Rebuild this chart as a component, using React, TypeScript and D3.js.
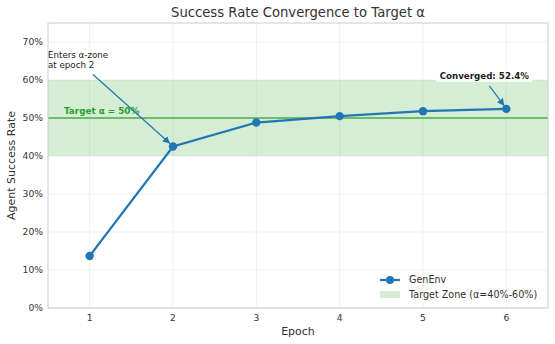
import React from 'react';
import * as d3 from 'd3';

const epochs = [1, 2, 3, 4, 5, 6];
const successRate = [0.137, 0.425, 0.488, 0.505, 0.518, 0.524];
const yTicks = [0, 0.1, 0.2, 0.3, 0.4, 0.5, 0.6, 0.7];
const zoneLow = 0.4;
const zoneHigh = 0.6;
const target = 0.5;

const W = 555;
const H = 344;
const margin = { top: 23, right: 7, bottom: 36, left: 48 };
const font = '"DejaVu Sans", sans-serif';

const App = () => {
  const iw = W - margin.left - margin.right;
  const ih = H - margin.top - margin.bottom;
  const x = d3.scaleLinear().domain([0.5, 6.5]).range([0, iw]);
  const y = d3.scaleLinear().domain([0, 0.75]).range([ih, 0]);
  const line = d3.line<number>().x((d, i) => x(epochs[i])).y(d => y(d));
  const fmt = d3.format('.0%');

  const p2 = [x(epochs[1]), y(successRate[1])];
  const p6 = [x(epochs[5]), y(successRate[5])];

  return (
    <svg width={W} height={H} style={{ position: 'absolute', left: 0, top: 0, fontFamily: font }}>
      <defs>
        <marker id="arr" viewBox="0 0 10 10" refX="10" refY="5" markerWidth="6" markerHeight="6" orient="auto-start-reverse">
          <path d="M0,0 L10,5 L0,10 z" fill="#1f77b4" />
        </marker>
      </defs>
      <rect width={W} height={H} fill="#fff" />
      <text x={margin.left + iw / 2} y={17} textAnchor="middle" fontSize={13.2} fill="#333">
        Success Rate Convergence to Target α
      </text>
      <g transform={`translate(${margin.left},${margin.top})`}>
        {epochs.map(e => (
          <line key={'gx' + e} x1={x(e)} x2={x(e)} y1={0} y2={ih} stroke="#eeeeee" strokeWidth={0.8} />
        ))}
        {yTicks.map(t => (
          <line key={'gy' + t} x1={0} x2={iw} y1={y(t)} y2={y(t)} stroke="#eeeeee" strokeWidth={0.8} />
        ))}
        <rect x={0} width={iw} y={y(zoneHigh)} height={y(zoneLow) - y(zoneHigh)} fill="#2ca02c" fillOpacity={0.2} />
        <line x1={0} x2={iw} y1={y(target)} y2={y(target)} stroke="#2ca02c" strokeOpacity={0.6} strokeWidth={2} />
        <text x={16} y={y(target) - 4} fontSize={8.8} fontWeight="bold" fill="#2ca02c">
          Target α = 50%
        </text>
        <rect x={0} y={0} width={iw} height={ih} fill="none" stroke="#cccccc" strokeWidth={1} />
        {yTicks.map(t => (
          <text key={'ty' + t} x={-5} y={y(t)} dy="0.35em" textAnchor="end" fontSize={9.2} fill="#333">
            {fmt(t)}
          </text>
        ))}
        {epochs.map(e => (
          <text key={'tx' + e} x={x(e)} y={ih + 13} textAnchor="middle" fontSize={9.2} fill="#333">
            {e}
          </text>
        ))}
        <text x={iw / 2} y={ih + 27} textAnchor="middle" fontSize={11} fill="#333">Epoch</text>
        <text transform={`translate(${-33},${ih / 2}) rotate(-90)`} textAnchor="middle" fontSize={11} fill="#333">
          Agent Success Rate
        </text>
        <path d={line(successRate) || ''} fill="none" stroke="#1f77b4" strokeWidth={2.2} />
        {successRate.map((v, i) => (
          <circle key={'pt' + i} cx={x(epochs[i])} cy={y(v)} r={4.2} fill="#1f77b4" />
        ))}
        <line x1={p2[0] - 80} y1={p2[1] - 72} x2={p2[0] - 3} y2={p2[1] - 3} stroke="#1f77b4" strokeWidth={1.2} markerEnd="url(#arr)" />
        <text x={0} y={35} fontSize={8.7} fill="#222">
          <tspan x={0}>Enters α-zone</tspan>
          <tspan x={0} dy={10}>at epoch 2</tspan>
        </text>
        <line x1={p6[0] - 17} y1={p6[1] - 23} x2={p6[0] - 2} y2={p6[1] - 3} stroke="#1f77b4" strokeWidth={1.2} markerEnd="url(#arr)" />
        <rect x={p6[0] - 70} y={p6[1] - 40} width={96} height={13} fill="#fff" fillOpacity={0.85} />
        <text x={p6[0] - 22} y={p6[1] - 30} textAnchor="middle" fontSize={8.7} fontWeight="bold" fill="#222">
          Converged: 52.4%
        </text>
        <g transform={`translate(${iw - 168},${ih - 34})`}>
          <line x1={0} x2={20} y1={6} y2={6} stroke="#1f77b4" strokeWidth={2.2} />
          <circle cx={10} cy={6} r={4} fill="#1f77b4" />
          <text x={29} y={9} fontSize={9.6} fill="#333">GenEnv</text>
          <rect x={0} y={17} width={20} height={7} fill="#2ca02c" fillOpacity={0.2} />
          <text x={29} y={24} fontSize={9.6} fill="#333">Target Zone (α=40%-60%)</text>
        </g>
      </g>
    </svg>
  );
};

export default App;
